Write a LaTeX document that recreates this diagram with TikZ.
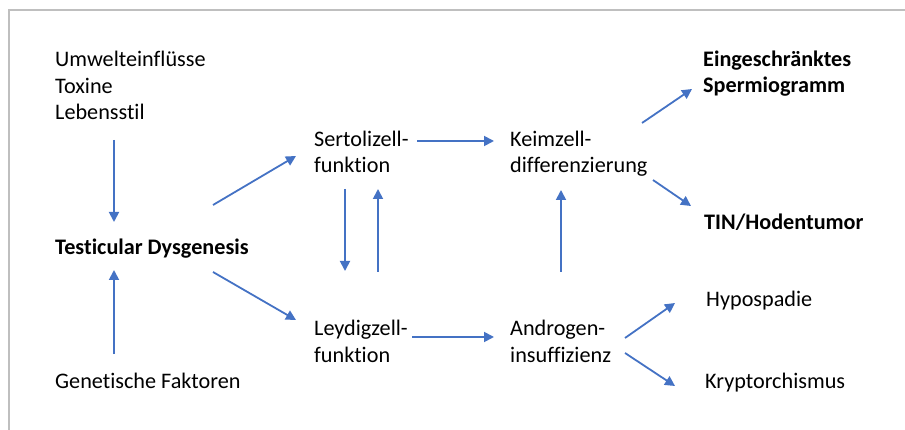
\documentclass[tikz,border=0pt]{standalone}
\usepackage{fontspec}
\setmainfont{Carlito}[Ligatures=NoCommon]
\usetikzlibrary{arrows.meta}
\definecolor{arrblue}{HTML}{4472C4}
\definecolor{framegray}{HTML}{BFBFBF}
\tikzset{
  lbl/.style={anchor=base west, inner sep=0pt, align=left, font=\fontsize{22.2}{26.5}\selectfont},
  blbl/.style={lbl, font=\fontsize{22.2}{26.5}\selectfont\bfseries},
  arr/.style={draw=arrblue, line width=1.8pt, -{Triangle[length=10pt,width=10pt]}},
}
\begin{document}
\begin{tikzpicture}[x=1pt,y=-1pt]
\useasboundingbox (0,0) rectangle (905,430);
\draw[framegray, line width=1.5pt] (9,430) -- (9,10) -- (905,10);

% multi-line nodes: base anchor is at the last line
\node[lbl] (umw) at (55,120) {Umwelteinflüsse\\Toxine\\Lebensstil};
\node[blbl] (td) at (55,255) {Testicular Dysgenesis};
\node[lbl] (gen) at (55,388) {Genetische Faktoren};
\node[lbl] (sert) at (314,173) {Sertolizell-\\funktion};
\node[lbl] (leyd) at (314,362) {Leydigzell-\\funktion};
\node[lbl] (keim) at (510,173) {Keimzell-\\differenzierung};
\node[lbl] (andr) at (510,362) {Androgen-\\insuffizienz};
\node[blbl] (sperm) at (703,93) {Eingeschränktes\\Spermiogramm};
\node[blbl] (tin) at (704,230) {TIN/Hodentumor};
\node[lbl] (hypo) at (706,307) {Hypospadie};
\node[lbl] (krypt) at (705,388) {Kryptorchismus};

% connector end points
\coordinate (umwS) at (114,140);  \coordinate (tdN) at (114,222);
\coordinate (genN) at (114,354);  \coordinate (tdS) at (114,270);
\coordinate (tdE1) at (213,205);  \coordinate (sertW) at (296,156);
\coordinate (tdE2) at (213,272);  \coordinate (leydW) at (296,320);
\coordinate (sertE) at (417,141); \coordinate (keimW) at (494,141);
\coordinate (leydE) at (412,337); \coordinate (andrW) at (494,337);
\coordinate (sertS1) at (345,189); \coordinate (leydN1) at (345,271);
\coordinate (leydN2) at (378,272); \coordinate (sertS2) at (378,189);
\coordinate (andrN) at (561,272); \coordinate (keimS) at (561,190);
\coordinate (keimE1) at (642,123); \coordinate (spermW) at (692,89);
\coordinate (keimE2) at (653,180); \coordinate (tinW) at (691,206);
\coordinate (andrE1) at (625,338); \coordinate (hypoW) at (675,303);
\coordinate (andrE2) at (625,353); \coordinate (kryptW) at (675,386);

\draw[arr] (umwS) -- (tdN);
\draw[arr] (genN) -- (tdS);
\draw[arr] (tdE1) -- (sertW);
\draw[arr] (tdE2) -- (leydW);
\draw[arr] (sertE) -- (keimW);
\draw[arr] (leydE) -- (andrW);
\draw[arr] (sertS1) -- (leydN1);
\draw[arr] (leydN2) -- (sertS2);
\draw[arr] (andrN) -- (keimS);
\draw[arr] (keimE1) -- (spermW);
\draw[arr] (keimE2) -- (tinW);
\draw[arr] (andrE1) -- (hypoW);
\draw[arr] (andrE2) -- (kryptW);
\end{tikzpicture}
\end{document}
